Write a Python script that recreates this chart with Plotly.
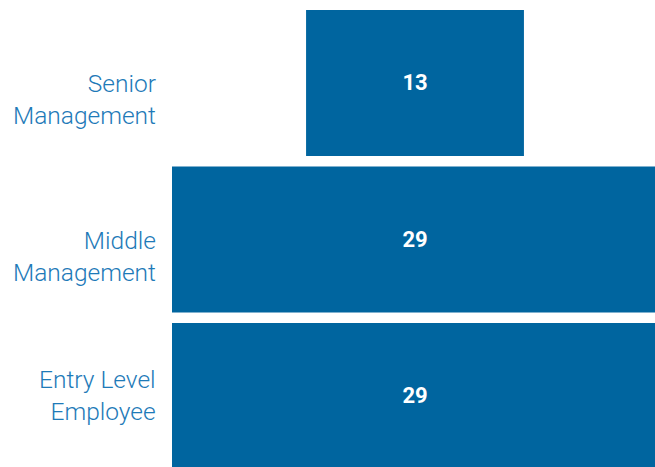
import plotly.graph_objects as go

categories = ["Senior<br>Management", "Middle<br>Management", "Entry Level<br>Employee"]
values = [13, 29, 29]

# vertical label offsets (px, negative = down) as seen in the reference
label_shift = [-17, -17, 0]

fig = go.Figure(go.Funnel(
    y=categories,
    x=values,
    textinfo="value",
    textposition="inside",
    insidetextanchor="middle",
    textfont=dict(family="Roboto", size=22, color="white", weight="bold"),
    marker=dict(color="#00659F"),
    connector=dict(visible=False),
))

for cat, sh in zip(categories, label_shift):
    fig.add_annotation(
        x=0, xref="paper", xanchor="right", xshift=-14,
        y=cat, yref="y", yanchor="middle", yshift=sh,
        text=cat, showarrow=False, align="right",
        font=dict(family="Roboto", size=24.5, color="#1E7AB8", weight=300),
    )

fig.update_layout(
    width=655, height=467,
    margin=dict(l=172, r=0, t=0, b=0),
    paper_bgcolor="white", plot_bgcolor="white",
    showlegend=False,
    funnelgap=0.067,
    xaxis=dict(range=[-14.5, 14.32], visible=False),
    yaxis=dict(range=[2.454, -0.53], autorange=False, showticklabels=False,
               showgrid=False, zeroline=False, showline=False),
)

fig.write_html("out.html")
